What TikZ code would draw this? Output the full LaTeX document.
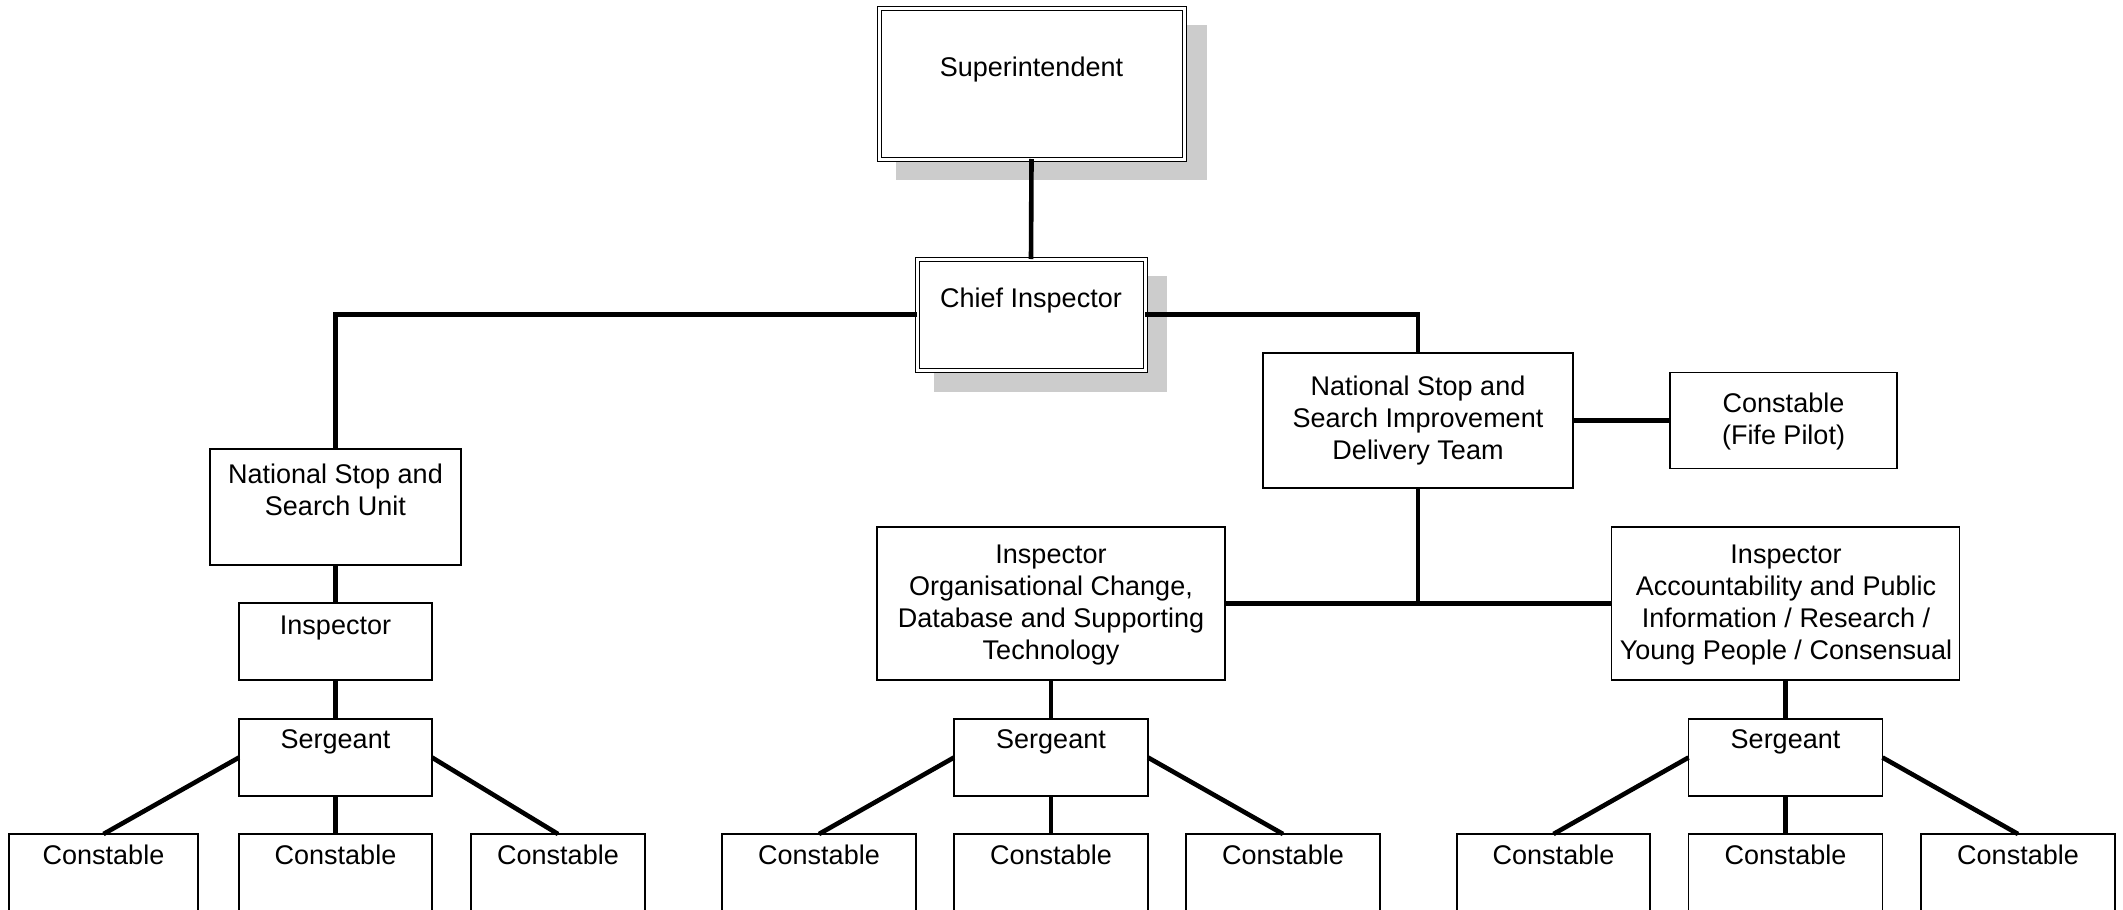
\documentclass[tikz,border=0pt]{standalone}
\usepackage{fontspec}
\setmainfont{Liberation Sans}
\definecolor{shadowgray}{HTML}{CCCCCC}
\newcommand{\orgtext}[1]{\begin{tabular}[t]{@{}c@{}}#1\end{tabular}}
\begin{document}
\begin{tikzpicture}[x=1pt,y=-1pt,
  box/.style={draw, line width=1.3pt, fill=white, rectangle, inner sep=0pt, outer sep=0pt},
  dblbox/.style={draw, line width=1pt, double=white, double distance=3pt, fill=white, rectangle, inner sep=0pt, outer sep=0pt},
  conn/.style={line width=4.6pt},
  txt/.style={font=\fontsize{27}{32}\selectfont, inner sep=0pt, anchor=base},
  shadowbox/.style={fill=shadowgray, draw=none}]
\useasboundingbox (0,0) rectangle (2123,910);
\fill[white] (0,0) rectangle (2123,910);
\clip (0,0) rectangle (2123,910);

% shadows
\fill[shadowgray] (896,25) rectangle (1207,180);
\fill[shadowgray] (934,276) rectangle (1167,392);

% boxes
\node[dblbox, minimum width=305pt, minimum height=151pt] (sup) at (1031.5,83.5) {};
\node[dblbox, minimum width=228pt, minimum height=111pt] (chief) at (1031,314.5) {};
\node[box, minimum width=251pt, minimum height=116pt] (nssu) at (335.5,507) {};
\node[box, minimum width=193pt, minimum height=77pt] (inspL) at (335.5,641.5) {};
\node[box, minimum width=193pt, minimum height=77pt] (sgtL) at (335.5,757.5) {};
\node[box, minimum width=189pt, minimum height=80pt] (c1) at (103.5,874) {};
\node[box, minimum width=193pt, minimum height=80pt] (c2) at (335.5,874) {};
\node[box, minimum width=174pt, minimum height=80pt] (c3) at (558,874) {};

\node[box, minimum width=310pt, minimum height=135pt] (nssidt) at (1418,420.5) {};
\node[box, minimum width=227pt, minimum height=96pt] (fife) at (1783.5,420.5) {};
\node[box, minimum width=348pt, minimum height=153pt] (inspOC) at (1051,603.5) {};
\node[box, minimum width=348pt, minimum height=153pt] (apr) at (1785.5,603.5) {};

\node[box, minimum width=194pt, minimum height=77pt] (sgtM) at (1051,757.5) {};
\node[box, minimum width=194pt, minimum height=80pt] (c4) at (819,874) {};
\node[box, minimum width=194pt, minimum height=80pt] (c5) at (1051,874) {};
\node[box, minimum width=194pt, minimum height=80pt] (c6) at (1283,874) {};

\node[box, minimum width=194pt, minimum height=77pt] (sgtR) at (1785.5,757.5) {};
\node[box, minimum width=193pt, minimum height=80pt] (c7) at (1553.5,874) {};
\node[box, minimum width=194pt, minimum height=80pt] (c8) at (1785.5,874) {};
\node[box, minimum width=194pt, minimum height=80pt] (c9) at (2018,874) {};

% texts
\node[txt] (tsup) at (1031.5,76) {Superintendent};
\node[txt] (tchief) at (1031,307) {Chief Inspector};
\node[txt] (tnssu) at (335.5,483) {\orgtext{National Stop and\\Search Unit}};
\node[txt] (tinspL) at (335.5,634) {Inspector};
\node[txt] (tsgtL) at (335.5,748) {Sergeant};
\node[txt] (tc1) at (103.5,864) {Constable};
\node[txt] (tc2) at (335.5,864) {Constable};
\node[txt] (tc3) at (558,864) {Constable};
\node[txt] (tnssidt) at (1418,395) {\orgtext{National Stop and\\Search Improvement\\Delivery Team}};
\node[txt] (tfife) at (1783.5,412) {\orgtext{Constable\\(Fife Pilot)}};
\node[txt] (tinspOC) at (1051,563) {\orgtext{Inspector\\Organisational Change,\\Database and Supporting\\Technology}};
\node[txt] (tapr) at (1786,563) {\orgtext{Inspector\\Accountability and Public\\Information / Research /\\Young People / Consensual}};
\node[txt] (tsgtM) at (1051,748) {Sergeant};
\node[txt] (tc4) at (819,864) {Constable};
\node[txt] (tc5) at (1051,864) {Constable};
\node[txt] (tc6) at (1283,864) {Constable};
\node[txt] (tsgtR) at (1785.5,748) {Sergeant};
\node[txt] (tc7) at (1553.5,864) {Constable};
\node[txt] (tc8) at (1785.5,864) {Constable};
\node[txt] (tc9) at (2018,864) {Constable};

% connectors
\draw[conn] (sup.south) -- (chief.north);
\draw[conn] (chief.west) -| (nssu.north);
\draw[conn] (chief.east) -| (nssidt.north);
\draw[conn] (nssidt.east) -- (fife.west);
\coordinate (junc) at (nssidt.south |- inspOC.east);
\draw[conn] (nssidt.south) -- (junc);
\draw[conn] (inspOC.east) -- (apr.west);

\draw[conn] (nssu.south) -- (inspL.north);
\draw[conn] (inspL.south) -- (sgtL.north);
\draw[conn] (sgtL.south) -- (c2.north);
\draw[conn] (sgtL.west) -- (c1.north);
\draw[conn] (sgtL.east) -- (c3.north);

\draw[conn] (inspOC.south) -- (sgtM.north);
\draw[conn] (sgtM.south) -- (c5.north);
\draw[conn] (sgtM.west) -- (c4.north);
\draw[conn] (sgtM.east) -- (c6.north);

\draw[conn] (apr.south) -- (sgtR.north);
\draw[conn] (sgtR.south) -- (c8.north);
\draw[conn] (sgtR.west) -- (c7.north);
\draw[conn] (sgtR.east) -- (c9.north);
\end{tikzpicture}
\end{document}
